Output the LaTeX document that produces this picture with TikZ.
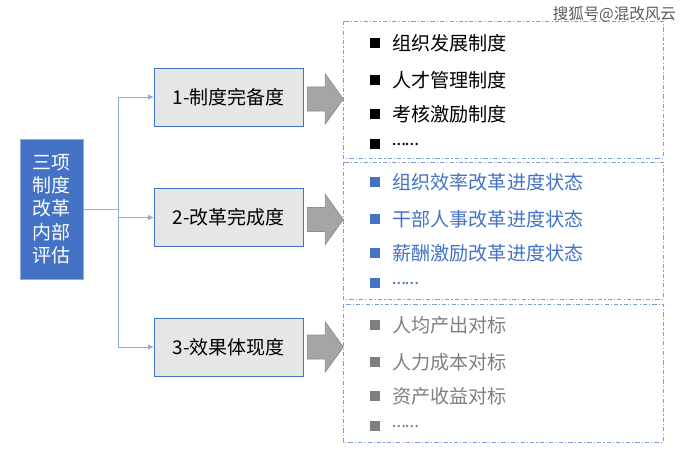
\documentclass[tikz,border=0pt]{standalone}
\usepackage{fontspec}
\setmainfont{Noto Sans CJK SC}
\newfontfamily\latinfont{Carlito}
\usetikzlibrary{arrows.meta, calc}

\definecolor{mainblue}{HTML}{4472C4}
\definecolor{lineblue}{HTML}{8FAADC}
\definecolor{dashblue}{HTML}{7C9CD6}
\definecolor{boxgray}{HTML}{E7E6E6}
\definecolor{arrowgray}{HTML}{A5A5A5}
\definecolor{arrowedge}{HTML}{8C8C8C}
\definecolor{textgray}{HTML}{7F7F7F}

\tikzset{
	rootbox/.style={draw=lineblue, fill=mainblue, text=white, align=center,
		minimum width=1.575cm, minimum height=3.5cm, inner sep=0pt,
		font=\fontsize{13.5}{16.6}\selectfont},
	stagebox/.style={draw=mainblue, fill=boxgray, minimum width=3.725cm,
		minimum height=1.45cm, font=\fontsize{13.5}{16}\selectfont},
	link/.style={draw=lineblue, line width=0.6pt},
	bigarrow/.style={draw=arrowedge, fill=arrowgray, line width=0.5pt},
	groupbox/.style={draw=dashblue, line width=0.6pt,
		dash pattern=on 3pt off 1.5pt on 0.8pt off 1.5pt},
	bullet/.style={minimum size=0.26cm, inner sep=0pt},
	item/.style={anchor=west, inner sep=0pt, font=\fontsize{13.6}{16}\selectfont}
}

\begin{document}
\begin{tikzpicture}[x=0.025cm, y=-0.025cm]
	\useasboundingbox (0,0) rectangle (690,453);

	% left column
	\node [rootbox] (root) at (51.5,209) {三项\\制度\\改革\\内部\\评估};

	\node [stagebox] (s1) at (228.5,97) {1-制度完备度};
	\node [stagebox] (s2) at (228.5,217.5) {2-改革完成度};
	\node [stagebox] (s3) at (228.5,347) {3-效果体现度};

	\coordinate (fork) at (118,209);
	\coordinate (forktop) at (118,97);
	\coordinate (forkbot) at (118,347);
	\draw [link] (root.east) to (fork);
	\draw [link] (forktop) to (forkbot);
	\draw [link, -{Latex[length=4pt, width=4pt]}] (forktop) to (s1.west);
	\draw [link, -{Latex[length=4pt, width=4pt]}] (forktop |- s2.west) to (s2.west);
	\draw [link, -{Latex[length=4pt, width=4pt]}] (forkbot) to (s3.west);

	% block arrows
	\draw [bigarrow] ($(s1.east)+(4,2)$) ++(0,-12) -- ++(18,0) -- ++(0,-13) -- ++(18,25)
		-- ++(-18,25) -- ++(0,-13) -- ++(-18,0) -- cycle;
	\draw [bigarrow] ($(s2.east)+(4,2)$) ++(0,-12) -- ++(18,0) -- ++(0,-13) -- ++(18,25)
		-- ++(-18,25) -- ++(0,-13) -- ++(-18,0) -- cycle;
	\draw [bigarrow] ($(s3.east)+(4,0)$) ++(0,-12) -- ++(18,0) -- ++(0,-13) -- ++(18,25)
		-- ++(-18,25) -- ++(0,-13) -- ++(-18,0) -- cycle;

	% right groups
	\draw [groupbox] (343,21) rectangle (663,158);
	\draw [groupbox] (343,162) rectangle (663,299);
	\draw [groupbox] (343,304) rectangle (663,442);

	\node [bullet, fill=black] (b11) at (375,43) {};
	\node [item] (t11) at (392,43) {组织发展制度};
	\node [bullet, fill=black] (b12) at (375,80) {};
	\node [item] (t12) at (392,80) {人才管理制度};
	\node [bullet, fill=black] (b13) at (375,114) {};
	\node [item] (t13) at (392,114) {考核激励制度};
	\node [bullet, fill=black] (b14) at (375,144) {};
	\node [item, text=black] (t14) at (392,144) {\latinfont ……};

	\node [bullet, fill=mainblue] (b21) at (375,182) {};
	\node [item, text=mainblue] (t21) at (392,182) {组织效率改革进度状态};
	\node [bullet, fill=mainblue] (b22) at (375,219) {};
	\node [item, text=mainblue] (t22) at (392,219) {干部人事改革进度状态};
	\node [bullet, fill=mainblue] (b23) at (375,253) {};
	\node [item, text=mainblue] (t23) at (392,253) {薪酬激励改革进度状态};
	\node [bullet, fill=mainblue] (b24) at (375,283) {};
	\node [item, text=mainblue] (t24) at (392,283) {\latinfont ……};

	\node [bullet, fill=textgray] (b31) at (375,325) {};
	\node [item, text=textgray] (t31) at (392,325) {人均产出对标};
	\node [bullet, fill=textgray] (b32) at (375,362) {};
	\node [item, text=textgray] (t32) at (392,362) {人力成本对标};
	\node [bullet, fill=textgray] (b33) at (375,396) {};
	\node [item, text=textgray] (t33) at (392,396) {资产收益对标};
	\node [bullet, fill=textgray] (b34) at (375,426) {};
	\node [item, text=textgray] (t34) at (392,426) {\latinfont ……};

	% watermark
	\node [anchor=east, inner sep=0pt, text=black!65, font=\fontsize{11}{13}\selectfont]
		(mark) at (676,14) {搜狐号@混改风云};
\end{tikzpicture}
\end{document}
